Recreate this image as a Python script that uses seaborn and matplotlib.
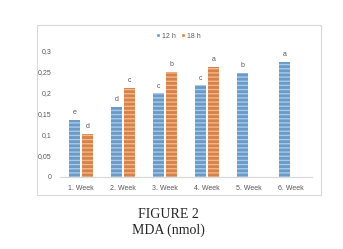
import numpy as np
import pandas as pd
import matplotlib
matplotlib.use('Agg')
import matplotlib.pyplot as plt
import seaborn as sns
from matplotlib.patches import Rectangle, Patch

# values
weeks = ['1. Week', '2. Week', '3. Week', '4. Week', '5. Week', '6. Week']
mda_12h = [0.135, 0.166, 0.199, 0.218, 0.247, 0.274]
mda_18h = [0.102, 0.212, 0.251, 0.262, np.nan, np.nan]
letters_12h = ['e', 'd', 'c', 'c', 'b', 'a']
letters_18h = ['d', 'c', 'b', 'a', '', '']
series = ['12 h', '18 h']
yticks = [0, 0.05, 0.1, 0.15, 0.2, 0.25, 0.3]

df = pd.DataFrame({
    'week': weeks * 2,
    'group': [series[0]] * 6 + [series[1]] * 6,
    'value': mda_12h + mda_18h,
})

sns.set_style('white')
plt.rcParams['font.family'] = ['Liberation Sans', 'DejaVu Sans']
plt.rcParams['hatch.linewidth'] = 1.0

fig = plt.figure(figsize=(3.43, 2.49), dpi=100)
ax = fig.add_axes([0.175, 0.290, 0.735, 0.505])

colors = {'12 h': '#5b9bd5', '18 h': '#ed7d31'}
stripe = {'12 h': '#a6cbec', '18 h': '#f7b68a'}
sns.barplot(data=df, x='week', y='value', hue='group', palette=colors,
            width=0.6, gap=0.1, ax=ax, legend=False)

# striped fill like the original
for cont, g in zip(ax.containers, series):
    for bar in cont:
        bar.set_hatch('----')
        bar.set_edgecolor(stripe[g])
        bar.set_linewidth(0)

# significance letters
for cont, labs in zip(ax.containers, [letters_12h, letters_18h]):
    for bar, lab in zip(cont, labs):
        h = bar.get_height()
        if lab and not np.isnan(h):
            ax.text(bar.get_x() + bar.get_width() / 2, h + 0.009, lab,
                    ha='center', va='bottom', fontsize=5, color='#595959')

ax.set_ylim(0, 0.3)
ax.set_yticks(yticks)
ax.set_yticklabels(['0' if t == 0 else f'{t:g}'.replace('.', ',') for t in yticks])
ax.set_xlabel('')
ax.set_ylabel('')
ax.tick_params(axis='both', labelsize=5, colors='#595959', length=0, pad=6)
for s in ['left', 'right', 'top']:
    ax.spines[s].set_visible(False)
ax.spines['bottom'].set_color('#d9d9d9')
ax.spines['bottom'].set_linewidth(0.9)

# legend
handles = [Patch(facecolor=colors[g], label=g) for g in series]
fig.legend(handles=handles, loc='center', bbox_to_anchor=(0.52, 0.855), ncol=2,
           frameon=False, fontsize=5, handlelength=0.6, handleheight=0.6,
           handletextpad=0.3, columnspacing=0.6, labelcolor='#595959')

# chart border
fig.patches.append(Rectangle((0.108, 0.217), 0.828, 0.683, transform=fig.transFigure,
                             fill=False, edgecolor='#d9d9d9', linewidth=0.8))

fig.text(0.49, 0.137, 'FIGURE 2', ha='center', va='center', fontsize=10,
         family='Liberation Serif')
fig.text(0.49, 0.076, 'MDA (nmol)', ha='center', va='center', fontsize=10,
         family='Liberation Serif')

fig.savefig('out.png', dpi=100)
